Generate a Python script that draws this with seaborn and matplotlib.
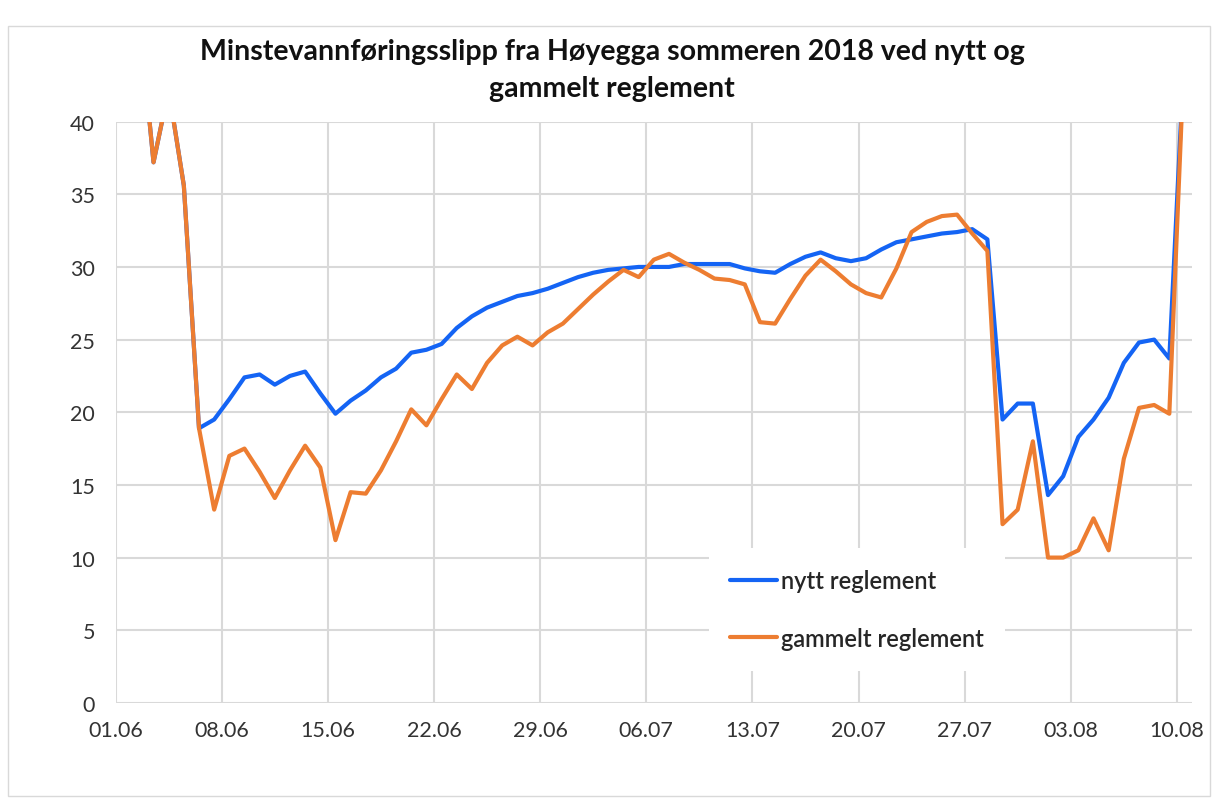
import matplotlib
matplotlib.use("Agg")
import matplotlib.pyplot as plt
from matplotlib.patches import Rectangle
import seaborn as sns
import pandas as pd

# daglige verdier 01.06 - 10.08 2018 (lest av fra figuren)
dager = pd.date_range("2018-06-01 12:00", "2018-08-10 12:00", freq="D")

nytt = [50.0, 47.9, 37.2, 42.2, 35.6, 18.9, 19.5, 20.9, 22.4, 22.6,
        21.9, 22.5, 22.8, 21.3, 19.9, 20.8, 21.5, 22.4, 23.0, 24.1,
        24.3, 24.7, 25.8, 26.6, 27.2, 27.6, 28.0, 28.2, 28.5, 28.9,
        29.3, 29.6, 29.8, 29.9, 30.0, 30.0, 30.0, 30.2, 30.2, 30.2,
        30.2, 29.9, 29.7, 29.6, 30.2, 30.7, 31.0, 30.6, 30.4, 30.6,
        31.2, 31.7, 31.9, 32.1, 32.3, 32.4, 32.6, 31.9, 19.5, 20.6,
        20.6, 14.3, 15.6, 18.3, 19.5, 21.0, 23.4, 24.8, 25.0, 23.7,
        45.0]

gammelt = [50.0, 47.9, 37.2, 42.2, 35.6, 18.9, 13.3, 17.0, 17.5, 15.9,
           14.1, 16.0, 17.7, 16.2, 11.2, 14.5, 14.4, 16.0, 18.0, 20.2,
           19.1, 20.9, 22.6, 21.6, 23.4, 24.6, 25.2, 24.6, 25.5, 26.1,
           27.1, 28.1, 29.0, 29.8, 29.3, 30.5, 30.9, 30.3, 29.8, 29.2,
           29.1, 28.8, 26.2, 26.1, 27.8, 29.4, 30.5, 29.7, 28.8, 28.2,
           27.9, 29.9, 32.4, 33.1, 33.5, 33.6, 32.3, 31.1, 12.3, 13.3,
           18.0, 10.0, 10.0, 10.5, 12.7, 10.5, 16.8, 20.3, 20.5, 19.9,
           45.0]

serier = ["nytt reglement", "gammelt reglement"]
farger = {"nytt reglement": "#1464f4", "gammelt reglement": "#ed7d31"}

df = pd.concat([
    pd.DataFrame({"dato": dager, "slipp": nytt, "serie": serier[0]}),
    pd.DataFrame({"dato": dager, "slipp": gammelt, "serie": serier[1]}),
])

sns.set_style("whitegrid", {"grid.color": "#d9d9d9"})
plt.rcParams["font.family"] = ["Lato", "DejaVu Sans"]

fig = plt.figure(figsize=(12.17, 8.03), dpi=100)
ax = fig.add_axes([0.095, 0.1234, 0.8845, 0.7239])

sns.lineplot(data=df, x="dato", y="slipp", hue="serie", hue_order=serier,
             palette=farger, linewidth=3, ax=ax)
for ln in ax.lines:
    ln.set_solid_joinstyle("round")

ax.set_ylim(0, 40)
ax.set_yticks(range(0, 41, 5))
ax.set_xlim(pd.Timestamp("2018-06-01"), pd.Timestamp("2018-08-11"))
ticks = pd.date_range("2018-06-01", "2018-08-10", freq="7D")
ax.set_xticks(ticks)
ax.set_xticklabels([t.strftime("%d.%m") for t in ticks])
ax.set_xlabel("")
ax.set_ylabel("")
ax.grid(True, linewidth=1.5)
for s in ax.spines.values():
    s.set_visible(False)
ax.tick_params(axis="both", labelsize=15.5, colors="#333333", length=0)
ax.tick_params(axis="x", pad=12)
ax.tick_params(axis="y", pad=15)

h, l = ax.get_legend_handles_labels()
ax.legend(h, l, loc="lower left", bbox_to_anchor=(0.54, 0.035),
          frameon=True, facecolor="white", edgecolor="none", framealpha=1,
          fancybox=False, labelspacing=1.45, handlelength=2.0,
          handletextpad=0.15, borderpad=0.9,
          prop={"size": 17, "weight": "semibold"})

fig.text(0.503, 0.912, "Minstevannføringsslipp fra Høyegga sommeren 2018 ved nytt og\ngammelt reglement",
         ha="center", va="center", fontsize=20.5, fontweight="bold",
         color="#111111", linespacing=1.5)

fig.patches.append(Rectangle((8 / 1217, 1 - 797 / 803), 1202 / 1217, 770 / 803,
                             transform=fig.transFigure, fill=False,
                             edgecolor="#d9d9d9", linewidth=1))

fig.savefig("out.png", dpi=100)
